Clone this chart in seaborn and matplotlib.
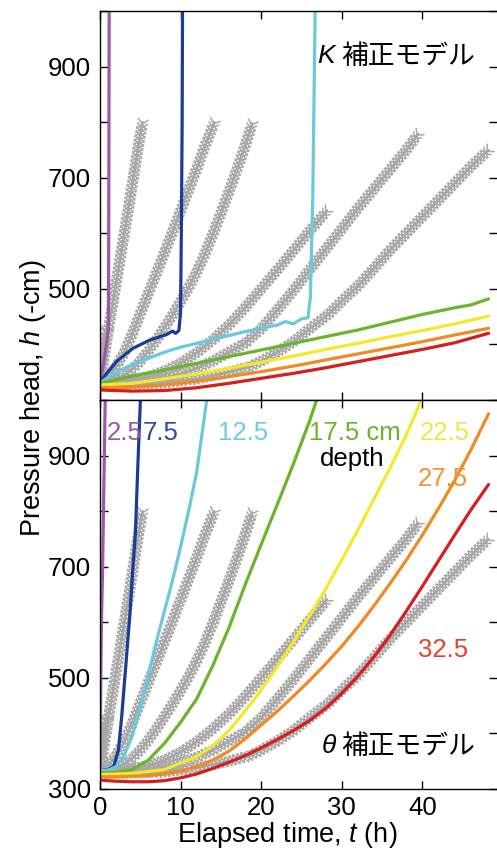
import matplotlib
matplotlib.use('Agg')
import matplotlib.pyplot as plt
import matplotlib.patheffects as pe
import pandas as pd
import seaborn as sns

# ---------------- data ----------------
depth_labels = ['2.5', '7.5', '12.5', '17.5', '22.5', '27.5', '32.5']
line_colors = ['#9b59a6', '#1a3c92', '#6cc8dc', '#6cb42c', '#f5e82a', '#f28a24', '#d51f1f']
text_colors = ['#9a55a5', '#2a4a9a', '#6ccde0', '#6ab42d', '#ece64a', '#f39232', '#e8412a']
obs_color = '#a8a8a8'

# observed (gray, identical in both panels)
obs_25_t = [0, 0.2, 0.4, 0.6, 0.8, 1.0]
obs_25_h = [330, 365, 400, 420, 428, 425]
obs_75_t = [0, 0.6, 1.2, 1.8, 2.4, 3.0, 3.6, 4.2, 4.8, 5.3]
obs_75_h = [332, 385, 440, 492, 545, 597, 650, 705, 760, 800]
obs_125_t = [0, 1, 2, 3, 4, 5, 6, 7, 8, 9, 10, 11, 12, 13, 14.2]
obs_125_h = [332, 342, 360, 385, 418, 455, 492, 528, 565, 602, 640, 678, 716, 756, 800]
obs_175_t = [0, 1, 2, 3, 4, 5, 6, 7, 8, 9, 10, 11, 12, 13, 14, 15, 16, 17, 18, 18.9]
obs_175_h = [331, 333, 337, 345, 355, 370, 388, 408, 430, 453, 477, 502, 530, 562, 598, 636, 675, 715, 757, 798]
obs_225_t = [0, 2, 4, 6, 8, 10, 12, 14, 16, 18, 20, 22, 24, 26, 28.2]
obs_225_h = [330, 332, 336, 342, 352, 366, 385, 408, 435, 466, 500, 534, 569, 604, 641]
obs_275_t = [0, 2, 4, 6, 8, 10, 12, 14, 16, 18, 20, 22, 24, 26, 28, 30, 32, 34, 36, 38, 39.5]
obs_275_h = [329, 330, 332, 335, 340, 347, 357, 370, 386, 402, 428, 462, 497, 534, 571, 608, 645, 680, 715, 750, 779]
obs_325_t = [0, 4, 8, 12, 16, 18.6, 20, 22, 24, 26, 28.4, 30, 32, 34, 36, 38, 40, 42, 44, 46, 48.2]
obs_325_h = [328, 329, 331, 338, 350, 360, 370, 386, 405, 428, 455, 478, 505, 537, 570, 600, 630, 660, 690, 720, 750]

# K-corrected model (top panel)
k_25_t = [0, 0.3, 0.6, 0.9, 1.05, 1.08, 1.11, 1.15]
k_25_h = [330, 352, 380, 410, 430, 520, 700, 1010]
k_75_t = [0, 0.8, 2.1, 4.1, 6.2, 8.3, 9.0, 9.4, 9.8, 10.0, 10.1, 10.2, 10.25]
k_75_h = [331, 347, 370, 393, 408, 418, 424, 420, 425, 457, 600, 800, 1010]
k_125_t = [0, 2, 4, 6, 8, 10, 12, 14, 16, 18, 20, 22, 23, 24, 25, 25.8, 26.1, 26.4, 26.7]
k_125_h = [331, 350, 364, 375, 386, 395, 402, 409, 416, 423, 429, 435, 441, 437, 446, 448, 484, 663, 1010]
k_175_t = [0, 4, 8, 12, 16, 20, 24, 28, 32, 36, 40, 42, 44, 46, 48.2]
k_175_h = [330, 343, 354, 366, 378, 390, 402, 414, 426, 440, 454, 460, 466, 471, 482]
k_225_t = [0, 4, 8, 12, 16, 20, 24, 28, 32, 36, 40, 44, 48.2]
k_225_h = [327, 330, 338, 347, 357, 368, 379, 391, 402, 414, 425, 437, 451]
k_275_t = [0, 4, 8, 12, 16, 20, 24, 28, 32, 36, 40, 44, 48.2]
k_275_h = [322, 323, 327, 334, 342, 351, 361, 372, 383, 394, 405, 417, 429]
k_325_t = [0, 4, 8, 12, 16, 20, 24, 28, 32, 36, 40, 44, 48.2]
k_325_h = [318, 316, 317, 322, 330, 339, 348, 358, 369, 380, 391, 403, 420]

# theta-corrected model (bottom panel)
th_25_t = [0, 0.03, 0.08, 0.14, 0.19, 0.34, 0.44, 0.55, 0.67]
th_25_h = [325, 340, 450, 540, 603, 700, 800, 900, 1010]
th_75_t = [0, 1.0, 1.7, 2.3, 2.7, 3.2, 3.7, 4.1, 4.4, 4.7, 5.05]
th_75_h = [333, 335, 340, 370, 430, 520, 610, 700, 760, 880, 1010]
th_125_t = [0, 1, 2, 3, 4, 5, 6, 7, 8, 9, 10, 11, 12, 13.3]
th_125_h = [333, 334, 340, 360, 395, 445, 505, 565, 620, 675, 735, 800, 870, 1005]
th_175_t = [0, 2, 4, 6, 8, 10, 12, 14, 16, 18, 20, 22, 24, 26, 27.0]
th_175_h = [329, 330, 335, 352, 382, 420, 462, 522, 590, 667, 740, 812, 885, 962, 1005]
th_225_t = [0, 4, 8, 12, 14, 16, 18, 20, 22, 24, 26, 28, 30, 32, 34, 36, 38, 40.0]
th_225_h = [326, 328, 335, 358, 378, 405, 440, 478, 520, 565, 612, 660, 712, 766, 822, 878, 937, 1005]
th_275_t = [0, 2, 4, 6, 8, 10, 12, 14, 16, 18, 20, 22, 24, 26, 28, 30, 32, 34, 36, 38, 40, 42, 44, 46, 48.2]
th_275_h = [322, 322, 323, 324, 327, 332, 340, 352, 368, 390, 415, 440, 467, 495, 525, 557, 592, 630, 670, 712, 757, 805, 855, 910, 975]
th_325_t = [0, 2, 4, 6, 8, 10, 12, 14, 16, 18, 20, 22, 24, 26, 28, 30, 32, 34, 36, 38, 40, 42, 44, 46, 48.2]
th_325_h = [316, 314, 313, 313, 315, 320, 327, 337, 348, 360, 374, 389, 405, 423, 445, 472, 503, 538, 577, 620, 665, 711, 757, 802, 848]

obs_t = [obs_25_t, obs_75_t, obs_125_t, obs_175_t, obs_225_t, obs_275_t, obs_325_t]
obs_h = [obs_25_h, obs_75_h, obs_125_h, obs_175_h, obs_225_h, obs_275_h, obs_325_h]
k_t = [k_25_t, k_75_t, k_125_t, k_175_t, k_225_t, k_275_t, k_325_t]
k_h = [k_25_h, k_75_h, k_125_h, k_175_h, k_225_h, k_275_h, k_325_h]
th_t = [th_25_t, th_75_t, th_125_t, th_175_t, th_225_t, th_275_t, th_325_t]
th_h = [th_25_h, th_75_h, th_125_h, th_175_h, th_225_h, th_275_h, th_325_h]


def long_df(ts, hs):
    rows = []
    for d, tt, hh in zip(depth_labels, ts, hs):
        for a, b in zip(tt, hh):
            rows.append((d, a, b))
    return pd.DataFrame(rows, columns=['depth', 't', 'h'])


df_obs = long_df(obs_t, obs_h)
df_k = long_df(k_t, k_h)
df_th = long_df(th_t, th_h)

# ---------------- style ----------------
sns.set_theme(style='ticks')
plt.rcParams['font.family'] = ['Liberation Sans', 'Noto Sans CJK JP', 'DejaVu Sans']
plt.rcParams['mathtext.fontset'] = 'custom'
plt.rcParams['mathtext.rm'] = 'Liberation Sans'
plt.rcParams['mathtext.it'] = 'Liberation Sans:italic'
plt.rcParams['axes.edgecolor'] = 'black'
plt.rcParams['axes.linewidth'] = 1.0
plt.rcParams['xtick.color'] = 'black'
plt.rcParams['ytick.color'] = 'black'
plt.rcParams['text.color'] = 'black'

FS = 18.5
LFS = 19.5

W, H = 497, 855
fig = plt.figure(figsize=(W / 100, H / 100), dpi=100)
L = 99.5 / W
AW = (W - 99.5) / W
ax1 = fig.add_axes([L, 1 - 400 / H, AW, 389 / H])
ax2 = fig.add_axes([L, 1 - 789 / H, AW, 389 / H], sharex=ax1)

tick_sp = 3.0
tick_len = 1.7
obs_effects = [pe.Normal()] + [
    pe.withTickedStroke(angle=a, spacing=tick_sp, length=tick_len, linewidth=1.1)
    for a in (45, -135, 135, -45)
]

palette = dict(zip(depth_labels, line_colors))

for ax, dfm in ((ax1, df_k), (ax2, df_th)):
    sns.lineplot(data=df_obs, x='t', y='h', units='depth', estimator=None, sort=False,
                 color=obs_color, lw=1.2, ax=ax, path_effects=obs_effects, legend=False)
    sns.lineplot(data=dfm, x='t', y='h', hue='depth', palette=palette, estimator=None,
                 sort=False, lw=2.3, ax=ax, legend=False)
    ax.set_xlim(-0.05, 49.25)
    ax.set_ylim(300, 1000)
    ax.set_xlabel('')
    ax.set_ylabel('')
    ax.set_xticks([0, 10, 20, 30, 40])
    ax.set_yticks([400, 600, 800, 1000], minor=True)
    ax.tick_params(which='both', direction='in', length=5.5, width=1.0,
                   top=True, right=True, labelsize=FS, pad=6)
    ax.spines['right'].set_visible(False)

ax1.set_yticks([500, 700, 900])
ax1.tick_params(labelbottom=False)
ax2.set_yticks([300, 500, 700, 900])
ax2.set_yticklabels(['300', '500', '700', '900'])
ax2.tick_params(axis='x', pad=5)

# model names
ax1.text(27.0, 919, 'K', fontsize=FS + 0.5, style='italic', ha='left', va='center')
ax1.text(29.9, 919, '補正モデル', fontsize=FS + 0.8, ha='left', va='center',
         family=['Noto Sans CJK JP', 'Liberation Sans'])
ax2.text(27.5, 377, 'θ', fontsize=FS + 0.5, style='italic', ha='left', va='center')
ax2.text(29.9, 377, '補正モデル', fontsize=FS + 0.8, ha='left', va='center',
         family=['Noto Sans CJK JP', 'Liberation Sans'])

# depth labels
lab_pos = [(0.85, 941), (5.3, 941), (14.6, 941), (25.9, 941), (39.7, 941), (39.4, 858), (39.4, 550)]
lab_txt = ['2.5', '7.5', '12.5', '17.5 cm', '22.5', '27.5', '32.5']
for (x, y), s, c in zip(lab_pos, lab_txt, text_colors):
    ax2.text(x, y, s, color=c, fontsize=FS, ha='left', va='center')
ax2.text(27.3, 894, 'depth', color='black', fontsize=FS, ha='left', va='center')

fig.text(33 / W, 1 - 398 / H, 'Pressure head, $h$ (-cm)', rotation=90,
         ha='center', va='center', fontsize=LFS)
fig.text(287 / W, 1 - 835 / H, 'Elapsed time, $t$ (h)', ha='center', va='center', fontsize=LFS)

fig.savefig('out.png', dpi=100)
